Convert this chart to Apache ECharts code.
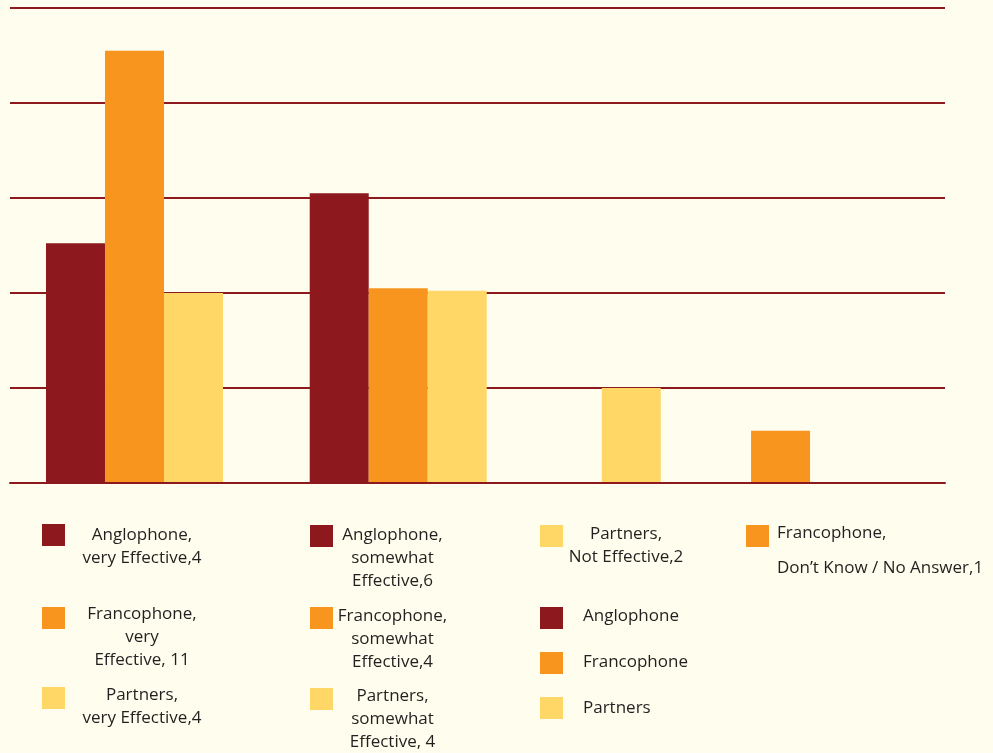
<!DOCTYPE html>
<html>
<head>
<meta charset="utf-8">
<script src="https://cdn.jsdelivr.net/npm/echarts@6/dist/echarts.min.js"></script>
<style>
html, body { margin: 0; padding: 0; background: #FFFDED; }
#chart { width: 993px; height: 753px; }
</style>
</head>
<body>
<div id="chart"></div>
<script>
// ---------------- data ----------------
const barNames = [
  'Anglophone, very Effective,4',
  'Francophone, very Effective, 11',
  'Partners, very Effective,4',
  'Anglophone, somewhat Effective,6',
  'Francophone, somewhat Effective,4',
  'Partners, somewhat Effective, 4',
  'Partners, Not Effective,2',
  'Francophone, Don\u2019t Know / No Answer,1'
];
const barGroups = ['Anglophone', 'Francophone', 'Partners', 'Anglophone', 'Francophone', 'Partners', 'Partners', 'Francophone'];
const barValues = [5.05, 9.1, 4.0, 6.1, 4.1, 4.05, 2.0, 1.1];
const groupNames = ['Anglophone', 'Francophone', 'Partners'];
const legendText = {
  'Anglophone, very Effective,4': 'Anglophone,\nvery Effective,4',
  'Francophone, very Effective, 11': 'Francophone,\nvery\nEffective, 11',
  'Partners, very Effective,4': 'Partners,\nvery Effective,4',
  'Anglophone, somewhat Effective,6': 'Anglophone,\nsomewhat\nEffective,6',
  'Francophone, somewhat Effective,4': 'Francophone,\nsomewhat\nEffective,4',
  'Partners, somewhat Effective, 4': 'Partners,\nsomewhat\nEffective, 4',
  'Partners, Not Effective,2': 'Partners,\nNot Effective,2',
  'Francophone, Don\u2019t Know / No Answer,1': 'Francophone,\nDon\u2019t Know / No Answer,1',
  'Anglophone': 'Anglophone',
  'Francophone': 'Francophone',
  'Partners': 'Partners'
};

// ---------------- layout / style ----------------
const barSlots = [0, 1, 2, 4.47, 5.47, 6.47, 9.42, 11.95]; // bar positions in bar-width units
const groupColors = { Anglophone: '#8D191E', Francophone: '#F7951F', Partners: '#FED767' };
const lineColor = '#8D191E';
const textColor = '#231F20';
const fontFamily = '"Open Sans", "Noto Sans", sans-serif';
const fontSize = 17;

const legendLayout = [
  { name: barNames[0], left: 42, iconTop: 524, w: 144, align: 'center', lh: 23, d: 0 },
  { name: barNames[1], left: 42, iconTop: 607, w: 144, align: 'center', lh: 23, d: -4 },
  { name: barNames[2], left: 42, iconTop: 687, w: 144, align: 'center', lh: 23, d: -3 },
  { name: barNames[3], left: 310, iconTop: 525, w: 109, align: 'center', lh: 23, d: -1 },
  { name: barNames[4], left: 310, iconTop: 607, w: 109, align: 'center', lh: 23, d: -2 },
  { name: barNames[5], left: 310, iconTop: 688, w: 109, align: 'center', lh: 23, d: -3 },
  { name: barNames[6], left: 540, iconTop: 525, w: 116, align: 'center', lh: 23, d: -2 },
  { name: 'Anglophone', left: 540, iconTop: 607, align: 'left', padL: 15, lh: 23, d: -2 },
  { name: 'Francophone', left: 540, iconTop: 652, align: 'left', padL: 15, lh: 23, d: -1 },
  { name: 'Partners', left: 540, iconTop: 697, align: 'left', padL: 15, lh: 23, d: 0 },
  { name: barNames[7], left: 746, iconTop: 525, align: 'left', padL: 3, lh: 35, d: -3 }
];

const legends = legendLayout.map(function (s) {
  const text = legendText[s.name];
  const n = text.split('\n').length;
  let pt = (n - 1) * s.lh + 2 * s.d, pb = 0;
  if (pt < 0) { pb = -pt; pt = 0; }
  const H = n * s.lh + pt + pb;
  const c = s.iconTop + 11;
  const top = Math.min(s.iconTop, c - H / 2);
  const rich = { t: { lineHeight: s.lh, fontSize: fontSize, fontFamily: fontFamily, color: textColor, align: s.align } };
  if (s.w) rich.t.width = s.w;
  return {
    show: true,
    data: [{ name: s.name, icon: 'rect' }],
    left: s.left,
    top: top,
    padding: 0,
    itemWidth: 23,
    itemHeight: 22,
    selectedMode: false,
    formatter: function () { return '{t|' + text + '}'; },
    textStyle: {
      padding: [pt, 0, pb, s.padL || 0],
      backgroundColor: 'rgba(0,0,0,0)',
      rich: rich
    }
  };
});

const series = barNames.map(function (nm, i) {
  return {
    name: nm,
    type: 'bar',
    barWidth: 59,
    barGap: '-100%',
    itemStyle: { color: groupColors[barGroups[i]] },
    data: [[barSlots[i], barValues[i]]]
  };
});
groupNames.forEach(function (g) {
  series.push({
    name: g, type: 'bar', barWidth: 59, barGap: '-100%',
    itemStyle: { color: groupColors[g] }, data: []
  });
});

const chart = echarts.init(document.getElementById('chart'));
chart.setOption({
  backgroundColor: '#FFFDED',
  animation: false,
  tooltip: { show: false },
  grid: { left: 10, right: 48, top: 8, bottom: 270, containLabel: false },
  xAxis: {
    type: 'value',
    min: -1.11,
    max: 14.737,
    z: 3,
    axisLine: { show: true, lineStyle: { color: lineColor, width: 2 } },
    axisTick: { show: false },
    axisLabel: { show: false },
    splitLine: { show: false }
  },
  yAxis: {
    type: 'value',
    min: 0,
    max: 10,
    interval: 2,
    axisLine: { show: false },
    axisTick: { show: false },
    axisLabel: { show: false },
    splitLine: { show: true, lineStyle: { color: lineColor, width: 2 } }
  },
  legend: legends,
  series: series
});
</script>
</body>
</html>
